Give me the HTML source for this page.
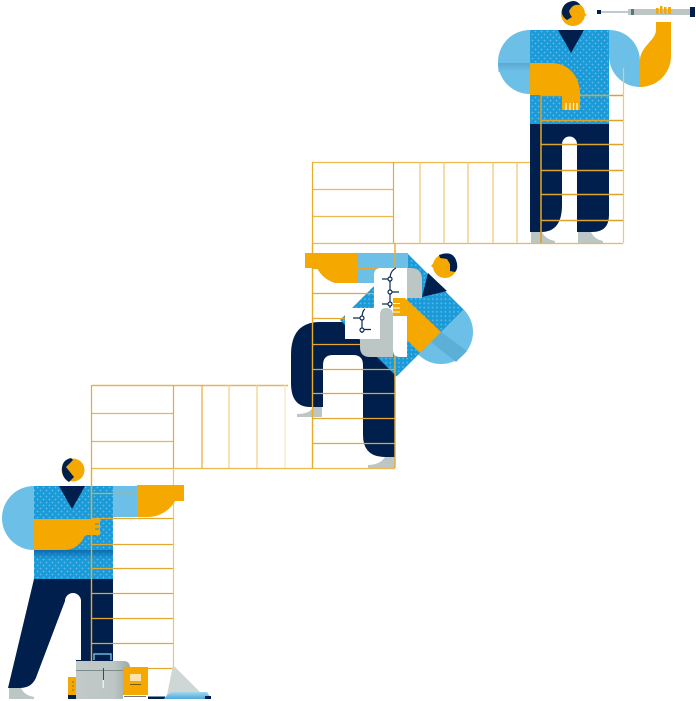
<!DOCTYPE html>
<html>
<head>
<meta charset="utf-8">
<style>
html,body{margin:0;padding:0;background:#fff;width:696px;height:701px;overflow:hidden}
svg{display:block}
</style>
</head>
<body>
<svg width="696" height="701" viewBox="0 0 696 701" xmlns="http://www.w3.org/2000/svg">
<defs>
<pattern id="d" width="6" height="6" patternUnits="userSpaceOnUse">
<rect width="6" height="6" fill="#1b9ad8"/>
<circle cx="1.5" cy="1.5" r=".9" fill="#63bbe8"/>
<circle cx="4.5" cy="4.5" r=".9" fill="#63bbe8"/>
</pattern>
<pattern id="dr" width="6" height="6" patternUnits="userSpaceOnUse" patternTransform="rotate(45)">
<rect width="6" height="6" fill="#1b9ad8"/>
<circle cx="1.5" cy="1.5" r=".9" fill="#63bbe8"/>
<circle cx="4.5" cy="4.5" r=".9" fill="#63bbe8"/>
</pattern>
<linearGradient id="band" x1="0" y1="0" x2="0" y2="1">
<stop offset="0" stop-color="#5aa9d4"/><stop offset="1" stop-color="#6cc0e8"/>
</linearGradient>
<linearGradient id="band2" x1="0" y1="0" x2="0" y2="1">
<stop offset="0" stop-color="#0a68ae" stop-opacity=".95"/><stop offset="1" stop-color="#0a68ae" stop-opacity="0"/>
</linearGradient>
<linearGradient id="boat" x1="0" y1="0" x2="0" y2="1">
<stop offset="0" stop-color="#a6d8ee"/><stop offset="1" stop-color="#4aa8da"/>
</linearGradient>
<linearGradient id="case" x1="0" y1="0" x2="1" y2="0">
<stop offset="0" stop-color="#c2cac8"/><stop offset=".7" stop-color="#bcc6c4"/><stop offset="1" stop-color="#9eaaa8"/>
</linearGradient>
</defs>

<!-- TOP FIGURE -->
<path d="M530 30A32 32 0 0 0 530 94Z" fill="#6cc0e8"/>
<path d="M498 63H530V72H498.500Z" fill="url(#band)"/>
<rect x="530" y="30" width="79" height="94" fill="url(#d)"/>
<path d="M558 30H584L571 53Z" fill="#001f4d"/>
<path d="M609 30C626 30 640 43 640 62V87A31 31 0 0 1 609 57Z" fill="#6cc0e8"/>
<path d="M530 124H609V215Q609 232 592 232H577V144A7.500 7.500 0 0 0 562 144V205Q562 232 541 232H530Z" fill="#001f4d"/>
<path d="M531 232H542Q545 239 555 241V243H531Z" fill="#bcc6c4"/>
<path d="M578 232H591Q594 239 603 241V243H578Z" fill="#bcc6c4"/>

<!-- TOP STAIR -->
<g stroke="#e9ab2c" stroke-width="1.200" fill="none">
<path d="M312.500 162.500H530M312.500 189.500H393M312.500 216.500H393M312.500 243.500H623" stroke="#edb84d"/>
<path d="M312.500 162V243M393.500 162V243" />
<path d="M420 162V243M444 162V243M468 162V243M493 162V243M517 162V243" stroke="#f1c677"/>
<path d="M541 95V243" stroke-width="1.600" stroke="#d99f28"/>
<path d="M623.500 68V243" stroke="#f1c677"/>
<path d="M541 95.500H623M541 120.500H623M541 144.500H623M541 170.500H623M541 194.500H623M541 220.500H623" stroke="#dca42f" stroke-width="1.400"/>
</g>

<!-- top forearm over ladder -->
<path d="M530 63H551C567 63 579 74 580 92V110H562V95H530Z" fill="#f5a800"/>
<path d="M566 103V110M570 103V110M573.500 103V110M577 103V110" stroke="#fff" stroke-width="1.100"/>
<path d="M640 87V60C640 47 656 40 656 30V22H671V55A31 31 0 0 1 640 87Z" fill="#f5a800"/>
<!-- telescope -->
<rect x="597" y="10" width="4" height="4" fill="#001f4d"/>
<rect x="601" y="11.500" width="27" height="1" fill="#7d9aa3"/>
<rect x="628" y="9" width="62" height="6" fill="#bcc6c4"/>
<rect x="631" y="9" width="3" height="6" fill="#5b7580"/>
<rect x="690" y="7" width="5" height="10" fill="#001f4d"/>
<path d="M656 14V8H658.500V14ZM660 14V6H662.500V14ZM664 14V7H666.500V14ZM668 14V7H671V14Z" fill="#f5a800"/>
<!-- top head -->
<circle cx="573" cy="14" r="12" fill="#f5a800"/>
<path d="M584.500 13L587 15L585 16Z" fill="#f5a800"/>
<path d="M567 20Q561 16 562 10Q564 2 573 1Q578 1 580 5Q574 4 571 8L569 11Q570 15 572 17Z" fill="#001f4d"/>

<!-- MIDDLE FIGURE -->
<circle cx="441" cy="332" r="32" fill="#6cc0e8"/>
<path d="M431 342L441 332L467 351L456 362Z" fill="#5cb0d8"/>
<path d="M291 355Q291 322 320 322H345L395 372V457H385Q363 457 363 435V365Q363 355 353 355H333Q323 355 323 365V407H310Q291 407 291 383Z" fill="#001f4d"/>
<path d="M407 253L463.500 309.500L396.500 376.500L340 320Z" fill="url(#dr)"/>
<path d="M322 407V417H297V414Q310 414 313 407Z" fill="#bcc6c4"/>
<path d="M395 457V468H368V465Q380 465 385 457Z" fill="#bcc6c4"/>
<rect x="358" y="253" width="50" height="30" fill="#6cc0e8"/>

<g stroke="#e9ab2c" fill="none">
<path d="M312.500 243V468M395 243V468" stroke-width="1.400"/>
<path d="M312 268.500H395M312 293.500H395M312 318.500H395M312 344.500H395M312 369.500H395M312 393.500H395M312 418.500H395M312 443.500H395" stroke="#e3a82f" stroke-width="1.300"/>
</g>

<!-- BOTTOM STAIR -->
<g stroke="#e9ab2c" fill="none" stroke-width="1.200">
<path d="M92 385.500H288" stroke="#e6b65a" stroke-width="1.400"/>
<path d="M92 413.500H173M92 441.500H173" stroke="#e6b65a"/>
<path d="M92 468.500H395" stroke="#edb84d"/>
<path d="M91.500 385V468M173.500 385V468"/>
<path d="M202 385V468"/>
<path d="M229 385V468M257 385V468" stroke="#f2cd84"/>
<path d="M285 385V468" stroke="#f7e3bc"/>
</g>

<!-- middle arm orange -->
<path d="M305 253H358V283H335A30 30 0 0 1 317 268H305Z" fill="#f5a800"/>
<!-- neck + head -->
<path d="M422 297L428 273L447 291Z" fill="#001f4d"/>
<circle cx="445" cy="266" r="12" fill="#f5a800"/>
<path d="M433.500 263L431 266L433.500 268Z" fill="#f5a800"/>
<path d="M439 255Q452 250 456 260Q459 268 455 272L450 271V264L447 259L440 258Z" fill="#001f4d"/>
<!-- papers -->
<path d="M407 268H411Q422 268 422 280V298H407Z" fill="#bcc6c4"/>
<path d="M381 268H407V357H400Q393 357 393 350V339H345V308H374V275Q374 268 381 268Z" fill="#fff"/>
<path d="M380 315Q380 308 386 308Q393 308 393 315V357H370Q360 357 360 347V339H380Z" fill="#bcc6c4"/>
<!-- middle forearm -->
<path d="M393 298H405L441 332L420 353L407 340V316H393Z" fill="#f5a800"/>
<path d="M393 303.500H400M393 308H400M393 312H400" stroke="#fff" stroke-width="1.100"/>
<!-- circuits -->
<g fill="none" stroke="#0c2c54" stroke-width="1.200">
<path d="M396 268Q390 271 390 279V308"/>
<path d="M382 279H390M390 292H399M382 304H390"/>
<path d="M365 309Q362 311 362 318V333"/>
<path d="M353 318H362M362 329.500H371"/>
<g fill="#fff">
<circle cx="390" cy="279" r="2"/><circle cx="390" cy="292" r="2"/><circle cx="390" cy="304" r="2"/>
<circle cx="362" cy="318" r="2"/><circle cx="362" cy="330" r="2"/>
</g>
</g>

<!-- BOTTOM FIGURE -->
<path d="M34 486A32 32 0 0 0 34 550Z" fill="#6cc0e8"/>
<rect x="113" y="486" width="25" height="31" fill="#6cc0e8"/>
<rect x="34" y="486" width="79" height="93" fill="url(#d)"/>
<rect x="34" y="550" width="79" height="9" fill="url(#band2)"/>
<path d="M59 486H85L72 509Z" fill="#001f4d"/>
<path d="M34 579H113V690H76V660H81V601A8 8 0 0 0 65 601L37 675Q33 688 20 688H8Z" fill="#001f4d"/>
<path d="M9 688H21Q24 695 34 697V699H9Z" fill="#bcc6c4"/>

<!-- lower ladder -->
<g stroke="#e9ab2c" fill="none">
<path d="M91.500 468V664" stroke-width="1.400"/>
<path d="M173.500 468V668" stroke="#f0c472" stroke-width="1.200"/>
<path d="M91 493.500H173M91 518.500H173M91 544.500H173M91 568.500H173M91 593.500H173M91 618.500H173M91 643.500H173M91 668.500H173" stroke="#e3a82f" stroke-width="1.300"/>
</g>

<!-- bottom arm orange -->
<path d="M34 519H100V535H85A22 22 0 0 1 63 550H34Z" fill="#f5a800"/>
<path d="M95 524H99M95 529H99" stroke="#1b9ad8" stroke-width="1"/>
<path d="M137 485H184V501H175A31 31 0 0 1 147 517H137Z" fill="#f5a800"/>
<circle cx="73" cy="470" r="11.500" fill="#f5a800"/>
<path d="M71 458Q62 460 62 469Q62 478 69 482L74 477L66 467L73 460Z" fill="#001f4d"/>

<!-- luggage -->
<path d="M94 660V654H111V660" fill="none" stroke="#6cb4da" stroke-width="1.500"/>
<path d="M76 661H124Q130 661 130 668V699H76Z" fill="url(#case)"/>
<rect x="76" y="670" width="48" height="1" fill="#7d8c8c"/>
<rect x="103" y="668" width="1" height="12" fill="#3b4a50"/>
<rect x="102.500" y="680" width="1.500" height="8" fill="#e9eded"/>
<path d="M68 677H76V695H68Z" fill="#f5a800"/>
<path d="M73 681V693" stroke="#8a6b1a" stroke-width="1" stroke-dasharray="2 2"/>
<rect x="68" y="695" width="8" height="4" fill="#001f4d"/>
<rect x="123" y="667" width="25" height="28" fill="#f5a800"/>
<rect x="130" y="674" width="11" height="7" fill="#fbe3ad"/>
<rect x="130" y="684" width="11" height="1" fill="#7a5a10"/>
<rect x="123" y="695" width="25" height="4" fill="#fff"/>
<rect x="124" y="696" width="22" height="1" fill="#6f7d80"/>
<rect x="148" y="696.500" width="17" height="2.500" fill="#001f4d"/>
<path d="M173 665L200 692H207L211 699H164L167 695Z" fill="#cfd6d6"/>
<path d="M167 695L172 692H207L211 699H164Z" fill="url(#boat)"/>
<path d="M205 696H211V699H205Z" fill="#001f4d"/>
</svg>
</body>
</html>
